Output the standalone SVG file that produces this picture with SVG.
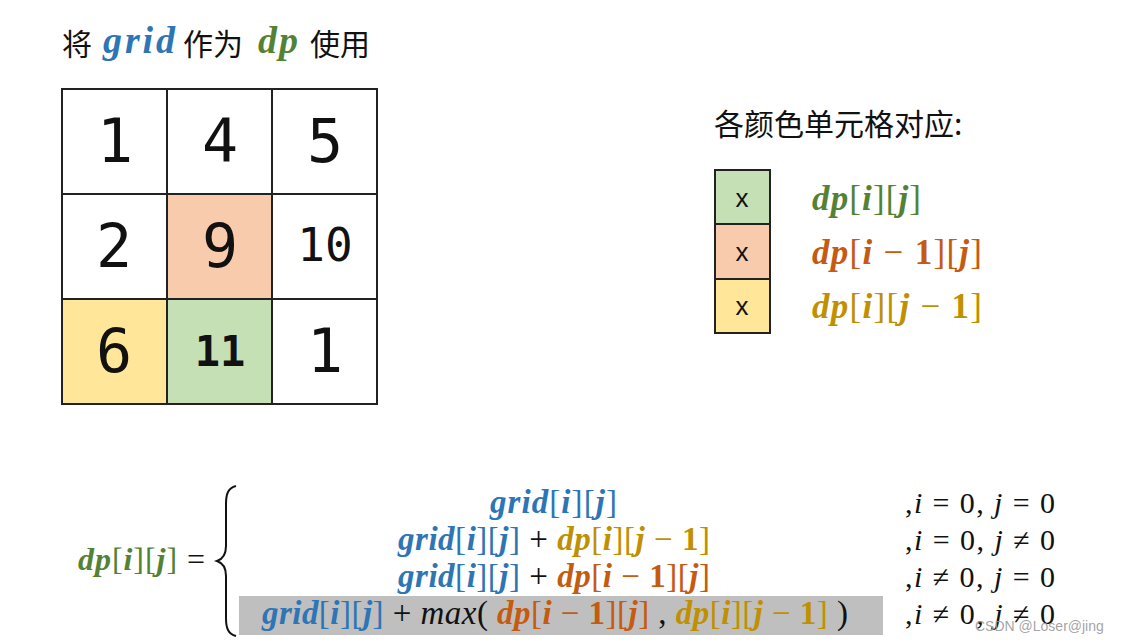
<svg xmlns="http://www.w3.org/2000/svg" width="1127" height="644" viewBox="0 0 1127 644">
<style>
.cjk{font-family:"Noto Sans CJK SC","Noto Sans",sans-serif;font-size:30px;fill:#111}
.m{font-family:"Liberation Serif",serif}
.bi{font-weight:bold;font-style:italic}
.b{font-weight:bold}
.it{font-style:italic}
.blue{fill:#2E75B6}.green{fill:#548235}.orange{fill:#C55A11}.gold{fill:#BF9000}.blk{fill:#111}
.cell{stroke:#222;stroke-width:2}
.num{font-family:"DejaVu Sans Mono",monospace;fill:#111;text-anchor:middle}
.lx{font-family:"Liberation Sans",sans-serif;font-size:26px;fill:#111;text-anchor:middle}
</style>
<rect width="1127" height="644" fill="#fff"/>
<g id="title">
<text x="62" y="55" class="cjk">将</text>
<text x="103" y="53" class="m bi blue" font-size="38" textLength="72">grid</text>
<text x="183" y="55" class="cjk">作为</text>
<text x="258" y="53" class="m bi green" font-size="38" textLength="40">dp</text>
<text x="310" y="55" class="cjk">使用</text>
</g>
<g id="grid">
<rect class="cell" x="62" y="89" width="105" height="105" fill="#fff"/>
<rect class="cell" x="167" y="89" width="105" height="105" fill="#fff"/>
<rect class="cell" x="272" y="89" width="105" height="105" fill="#fff"/>
<rect class="cell" x="62" y="194" width="105" height="105" fill="#fff"/>
<rect class="cell" x="167" y="194" width="105" height="105" fill="#F8CBAD"/>
<rect class="cell" x="272" y="194" width="105" height="105" fill="#fff"/>
<rect class="cell" x="62" y="299" width="105" height="105" fill="#FFE699"/>
<rect class="cell" x="167" y="299" width="105" height="105" fill="#C5E0B4"/>
<rect class="cell" x="272" y="299" width="105" height="105" fill="#fff"/>
<text class="num" x="115" y="162" font-size="60">1</text>
<text class="num" x="220" y="162" font-size="60">4</text>
<text class="num" x="325" y="162" font-size="60">5</text>
<text class="num" x="114" y="267" font-size="60">2</text>
<text class="num" x="220" y="267" font-size="60">9</text>
<text class="num" x="325" y="261" font-size="46">10</text>
<text class="num" x="114" y="372" font-size="60">6</text>
<text class="num" x="220" y="366" font-size="42" font-weight="bold">11</text>
<text class="num" x="325" y="372" font-size="60">1</text>
</g>
<g id="legend">
<text x="714" y="135" class="cjk">各颜色单元格对应:</text>
<rect class="cell" x="715" y="170" width="55" height="54" fill="#C5E0B4"/>
<rect class="cell" x="715" y="224" width="55" height="55" fill="#F8CBAD"/>
<rect class="cell" x="715" y="279" width="55" height="54" fill="#FFE699"/>
<text class="lx" x="742" y="207">x</text>
<text class="lx" x="742" y="261">x</text>
<text class="lx" x="742" y="315">x</text>
<text x="812" y="210" class="m green" font-size="35" textLength="109"><tspan class="bi">dp</tspan>[<tspan class="bi">i</tspan>][<tspan class="bi">j</tspan>]</text>
<text x="812" y="264" class="m orange" font-size="35" textLength="170"><tspan class="bi">dp</tspan>[<tspan class="bi">i</tspan> − <tspan class="b">1</tspan>][<tspan class="bi">j</tspan>]</text>
<text x="812" y="318" class="m gold" font-size="35" textLength="170"><tspan class="bi">dp</tspan>[<tspan class="bi">i</tspan>][<tspan class="bi">j</tspan> − <tspan class="b">1</tspan>]</text>
</g>
<g id="formula">
<rect x="239" y="596" width="644" height="39" fill="#BFBFBF"/>
<text x="78" y="570" class="m green" font-size="32" textLength="127"><tspan class="bi">dp</tspan>[<tspan class="bi">i</tspan>][<tspan class="bi">j</tspan>]<tspan class="blk"> =</tspan></text>
<path d="M236,486 C228,488 226,494 226,504 L226,546 C226,554 223,559 217,561 C223,563 226,568 226,576 L226,618 C226,628 228,634 236,636" fill="none" stroke="#111" stroke-width="2"/>
<text x="490" y="513" class="m blue" font-size="33" textLength="127"><tspan class="bi">grid</tspan>[<tspan class="bi">i</tspan>][<tspan class="bi">j</tspan>]</text>
<text x="398" y="550" class="m blue" font-size="33" textLength="312"><tspan class="bi">grid</tspan>[<tspan class="bi">i</tspan>][<tspan class="bi">j</tspan>]<tspan class="blk"> + </tspan><tspan class="gold"><tspan class="bi">dp</tspan>[<tspan class="bi">i</tspan>][<tspan class="bi">j</tspan> − <tspan class="b">1</tspan>]</tspan></text>
<text x="398" y="587" class="m blue" font-size="33" textLength="312"><tspan class="bi">grid</tspan>[<tspan class="bi">i</tspan>][<tspan class="bi">j</tspan>]<tspan class="blk"> + </tspan><tspan class="orange"><tspan class="bi">dp</tspan>[<tspan class="bi">i</tspan> − <tspan class="b">1</tspan>][<tspan class="bi">j</tspan>]</tspan></text>
<text x="262" y="624" class="m blue" font-size="33" textLength="586"><tspan class="bi">grid</tspan>[<tspan class="bi">i</tspan>][<tspan class="bi">j</tspan>]<tspan class="blk"> + <tspan class="it">max</tspan>( </tspan><tspan class="orange"><tspan class="bi">dp</tspan>[<tspan class="bi">i</tspan> − <tspan class="b">1</tspan>][<tspan class="bi">j</tspan>]</tspan><tspan class="blk"> , </tspan><tspan class="gold"><tspan class="bi">dp</tspan>[<tspan class="bi">i</tspan>][<tspan class="bi">j</tspan> − <tspan class="b">1</tspan>]</tspan><tspan class="blk"> )</tspan></text>
<text x="905" y="513" class="m blk" font-size="30" textLength="150">,<tspan class="it">i</tspan> = 0, <tspan class="it">j</tspan> = 0</text>
<text x="905" y="550" class="m blk" font-size="30" textLength="150">,<tspan class="it">i</tspan> = 0, <tspan class="it">j</tspan> ≠ 0</text>
<text x="905" y="587" class="m blk" font-size="30" textLength="150">,<tspan class="it">i</tspan> ≠ 0, <tspan class="it">j</tspan> = 0</text>
<text x="905" y="624" class="m blk" font-size="30" textLength="150">,<tspan class="it">i</tspan> ≠ 0, <tspan class="it">j</tspan> ≠ 0</text>
</g>
<text x="975" y="631" font-family="Liberation Sans, sans-serif" font-size="14" fill="#999" fill-opacity="0.9">CSDN @Loser@jing</text>
</svg>
